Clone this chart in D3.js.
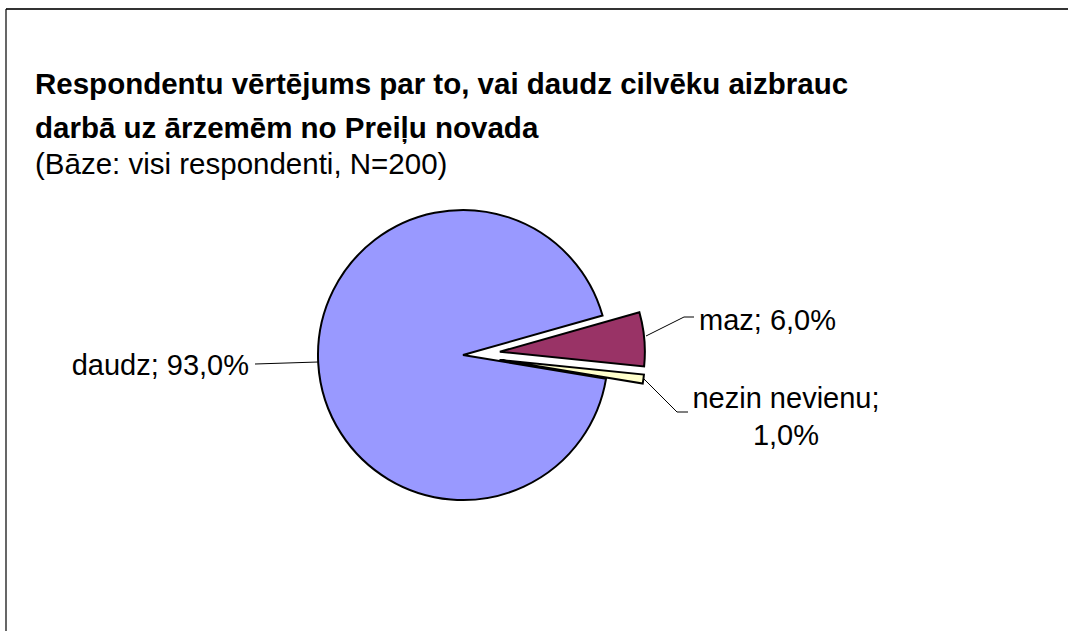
<!DOCTYPE html>
<html>
<head>
<meta charset="utf-8">
<script src="https://cdn.jsdelivr.net/npm/d3@7"></script>
<style>
  body { margin: 0; background: #fff; }
  text { font-family: Arial, "Liberation Sans", sans-serif; fill: #000; }
</style>
</head>
<body>
<div id="chart"></div>
<script>
var categories = ["daudz", "maz", "nezin nevienu"];
var values = [93.0, 6.0, 1.0];
var colors = ["#9999FF", "#993366", "#FFFFCC"];
var titleLines = ["Respondentu vērtējums par to, vai daudz cilvēku aizbrauc",
                  "darbā uz ārzemēm no Preiļu novada"];
var subtitle = "(Bāze: visi respondenti, N=200)";

var width = 1068,
    height = 631,
    cx = 463,
    cy = 355,
    radius = 145,
    explode = 37;

var svg = d3.select("#chart").append("svg")
    .attr("width", width)
    .attr("height", height);

// chart frame (only top and left edges fall inside the picture)
svg.append("line").attr("x1", 6).attr("x2", width).attr("y1", 9).attr("y2", 9)
    .attr("stroke", "#333").attr("stroke-width", 2);
svg.append("line").attr("x1", 6).attr("x2", 6).attr("y1", 9).attr("y2", height)
    .attr("stroke", "#000").attr("stroke-width", 1.2);

svg.selectAll(".title")
    .data(titleLines)
    .enter().append("text")
    .attr("class", "title")
    .attr("x", 35)
    .attr("y", function(d, i) { return 94 + i * 44; })
    .attr("font-size", "29.5px")
    .attr("font-weight", "bold")
    .text(function(d) { return d; });

svg.append("text")
    .attr("x", 35)
    .attr("y", 174)
    .attr("font-size", "29.5px")
    .text(subtitle);

var pie = d3.pie()
    .sort(null)
    .value(function(d) { return d; })
    .startAngle(99.4 * Math.PI / 180)
    .endAngle(99.4 * Math.PI / 180 + 2 * Math.PI);

var arc = d3.arc().innerRadius(0).outerRadius(radius);
var arcs = pie(values);

// small slices are pulled out of the pie
function offset(d, i) {
    if (i === 0) return [0, 0];
    var a = (d.startAngle + d.endAngle) / 2;
    return [Math.sin(a) * explode, -Math.cos(a) * explode];
}

var g = svg.append("g").attr("transform", "translate(" + cx + "," + cy + ")");

g.selectAll("path")
    .data(arcs)
    .enter().append("path")
    .attr("transform", function(d, i) { var o = offset(d, i); return "translate(" + o[0] + "," + o[1] + ")"; })
    .attr("d", arc)
    .attr("fill", function(d, i) { return colors[i]; })
    .attr("stroke", "#000")
    .attr("stroke-width", 2)
    .attr("stroke-linejoin", "miter");

// leader lines and labels
var labelSpec = [
    { anchor: "end", x: 249, y: 375, pts: [[318, 362], [255, 364]] },
    { anchor: "start", x: 699, y: 330, pts: [[646, 336], [684, 317], [694, 317]] },
    { anchor: "middle", x: 786, y: 408, pts: [[643, 378], [677, 412], [688, 412]] }
];

var fmt = function(v) { return d3.format(".1f")(v).replace(".", ",") + "%"; };

labelSpec.forEach(function(s) {
    svg.append("path")
        .attr("d", d3.line()(s.pts))
        .attr("fill", "none")
        .attr("stroke", "#000")
        .attr("stroke-width", 1);
});

svg.selectAll(".lbl")
    .data(arcs)
    .enter().append("text")
    .attr("class", "lbl")
    .attr("font-size", "29px")
    .attr("text-anchor", function(d, i) { return labelSpec[i].anchor; })
    .each(function(d, i) {
        var s = labelSpec[i];
        var lines = i === 2 ? [categories[i] + ";", fmt(values[i])]
                            : [categories[i] + "; " + fmt(values[i])];
        var t = d3.select(this);
        lines.forEach(function(l, k) {
            t.append("tspan").attr("x", s.x).attr("y", s.y + k * 37).text(l);
        });
    });
</script>
</body>
</html>
